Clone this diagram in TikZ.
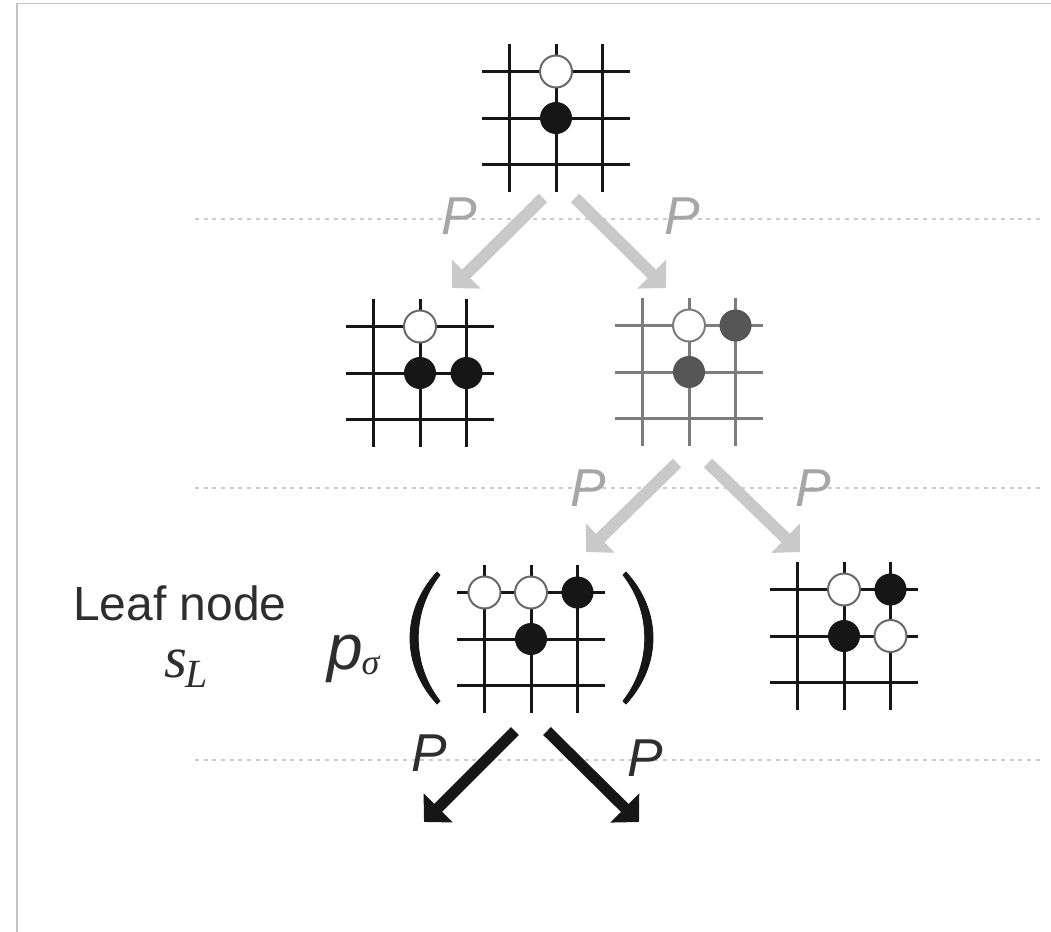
\documentclass[tikz,border=0pt]{standalone}
\usepackage{fontspec}
\setmainfont{Liberation Sans}
\newfontfamily\serifit{Liberation Serif}
\usetikzlibrary{arrows.meta}
\definecolor{lightarr}{HTML}{C9C9C9}
\definecolor{lightP}{HTML}{A6A6A6}
\definecolor{dotc}{HTML}{CCCCCC}
\definecolor{framec}{HTML}{C4C4C4}
\definecolor{gboard}{HTML}{7C7C7C}
\definecolor{gstone}{HTML}{555555}
\definecolor{ink}{HTML}{161616}
\definecolor{txt}{HTML}{2E2E2E}
\tikzset{
  gridline/.style={line width=2.25pt},
  wstone/.style={circle, minimum size=24pt, inner sep=0pt, fill=white, draw=#1, line width=1.5pt},
  wstone/.default=ink!65,
  bstone/.style={circle, minimum size=23pt, inner sep=0pt, fill=#1, draw=#1, line width=1pt},
  bstone/.default=ink,
  grayarrow/.style={draw=lightarr, line width=9pt, -{Triangle[length=15pt 0 0, width=30pt 0 0]}},
  blackarrow/.style={draw=ink, line width=8.25pt, -{Triangle[length=15pt 0 0, width=30pt 0 0]}},
  levelline/.style={draw=dotc, line width=1.5pt, dash pattern=on 3pt off 3.5pt},
  plabel/.style={inner sep=0pt, font=\fontsize{40}{44}\selectfont\itshape},
  paren/.style={fill=ink, draw=ink, line width=0.6pt, line join=round},
}
\newcommand\goboard[3]{%
  \begin{scope}[shift={(#1,#2)}]
    \foreach \k in {-46.5,0,46.5}{
      \draw[gridline,#3] (-74,\k) -- (74,\k);
      \draw[gridline,#3] (\k,-74) -- (\k,74);}
  \end{scope}}
\begin{document}
\begin{tikzpicture}[x=0.75pt,y=-0.75pt]
\useasboundingbox (0,0) rectangle (1051,932);
% frame
\draw[framec, line width=1.3pt] (17,932) -- (17,3.5) -- (1051,3.5);
% level lines
\draw[levelline] (195,219) -- (1040,219);
\draw[levelline] (195,488) -- (1040,488);
\draw[levelline] (195,760) -- (1040,760);

% boards
\coordinate (b1) at (556,118);
\coordinate (b2) at (420,373);
\coordinate (b3) at (689,372);
\coordinate (b4) at (531,639);
\coordinate (b5) at (844,636);
\goboard{556}{118}{ink}
\goboard{420}{373}{ink}
\goboard{689}{372}{gboard}
\goboard{531}{639}{ink}
\goboard{844}{636}{ink}

% stones: top board
\node[wstone] (t1) at (556,71.5) {};
\node[bstone] (t2) at (556,118) {};
% middle left
\node[wstone] (l1) at (420,326.5) {};
\node[bstone] (l2) at (420,373) {};
\node[bstone] (l3) at (466.5,373) {};
% middle right (grey)
\node[wstone=gboard] (r1) at (689,325.5) {};
\node[bstone=gstone] (r2) at (735.5,325.5) {};
\node[bstone=gstone] (r3) at (689,372) {};
% bottom left
\node[wstone] (x1) at (484.5,592.5) {};
\node[wstone] (x2) at (531,592.5) {};
\node[bstone] (x3) at (577.5,592.5) {};
\node[bstone] (x4) at (531,639) {};
% bottom right
\node[wstone] (y1) at (844,589.5) {};
\node[bstone] (y2) at (890.5,589.5) {};
\node[bstone] (y3) at (844,636) {};
\node[wstone] (y4) at (890.5,636) {};

% parentheses (crescents)
\fill[paren] (437,572) .. controls (401,611) and (401,665) .. (437,704)
  -- (440,701) .. controls (411,664) and (411,612) .. (440,575) -- cycle;
\fill[paren] (626,572) .. controls (662,611) and (662,665) .. (626,704)
  -- (623,701) .. controls (652,664) and (652,612) .. (623,575) -- cycle;

% arrows
\coordinate (a1s) at (543,198);
\coordinate (a1e) at (452,288);
\coordinate (a2s) at (575,198);
\coordinate (a2e) at (666,288);
\coordinate (a3s) at (677,463);
\coordinate (a3e) at (586,552);
\coordinate (a4s) at (708,463);
\coordinate (a4e) at (800,552);
\coordinate (a5s) at (515,731);
\coordinate (a5e) at (424,822);
\coordinate (a6s) at (547,731);
\coordinate (a6e) at (639,822);
\draw[grayarrow] (a1s) -- (a1e);
\draw[grayarrow] (a2s) -- (a2e);
\draw[grayarrow] (a3s) -- (a3e);
\draw[grayarrow] (a4s) -- (a4e);
\draw[blackarrow] (a5s) -- (a5e);
\draw[blackarrow] (a6s) -- (a6e);

% P labels
\node[plabel, text=lightP] (p1) at (459,216) {P};
\node[plabel, text=lightP] (p2) at (682,216) {P};
\node[plabel, text=lightP] (p3) at (588,488) {P};
\node[plabel, text=lightP] (p4) at (813,488) {P};
\node[plabel, text=txt] (p5) at (429,753) {P};
\node[plabel, text=txt] (p6) at (645,758) {P};

% labels
\node[anchor=base, inner sep=0pt, text=txt, font=\fontsize{36}{40}\selectfont] (leaf) at (180,620) {Leaf node};
\node[anchor=base west, inner sep=0pt, text=txt] (sl) at (164,677)
  {\fontsize{44}{46}\selectfont\serifit\itshape s\kern-1pt\raisebox{-8pt}{\fontsize{30}{32}\selectfont L}};
\node[anchor=base west, inner sep=0pt, text=txt] (psig) at (327,669)
  {\fontsize{48}{52}\selectfont\itshape p\kern-1pt\raisebox{-4pt}{\fontsize{27}{30}\selectfont\serifit\itshape σ}};
\end{tikzpicture}
\end{document}
